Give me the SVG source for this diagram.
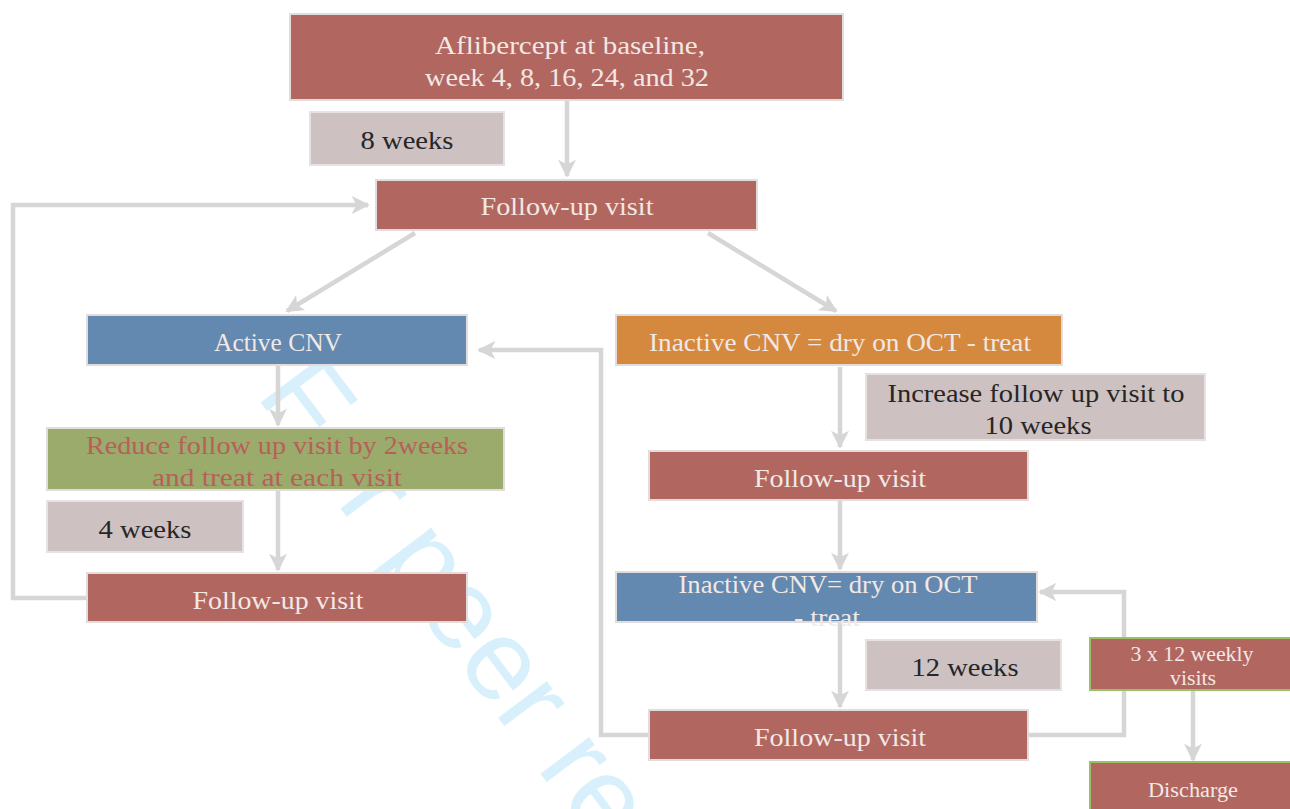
<svg xmlns="http://www.w3.org/2000/svg" width="1290" height="809" viewBox="0 0 1290 809">
<defs>
<marker id="ah" viewBox="0 0 10 10" refX="9" refY="5" markerWidth="4" markerHeight="4" orient="auto" markerUnits="strokeWidth">
<path d="M0,0 L10,5 L0,10 L2.5,5 Z" fill="#d6d6d6"/>
</marker>
</defs>
<style>
.red{fill:#b1665f;stroke:#e2dddc;stroke-width:2}
.blue{fill:#6489b0;stroke:#e2dddc;stroke-width:2}
.orange{fill:#d4893f;stroke:#e2dddc;stroke-width:2}
.green{fill:#9bab6b;stroke:#e2dddc;stroke-width:2}
.grey{fill:#cdc1c1;stroke:#e6e2e2;stroke-width:2}
.redg{fill:#b1665f;stroke:#9cc06a;stroke-width:2}
.t{font-family:"Liberation Serif","DejaVu Serif",serif;font-size:26px;text-anchor:middle}
.s{font-size:20px}
.w{fill:#f2e8e4}
.d{fill:#262626}
.r{fill:#b5615a}
.c{fill:none;stroke:#d6d6d6;stroke-width:4.5;marker-end:url(#ah)}
.n{fill:none;stroke:#d6d6d6;stroke-width:4.5}
</style>
<rect width="1290" height="809" fill="#ffffff"/>
<text x="0" y="0" transform="translate(255,395) rotate(53)" font-family="Liberation Sans,Arial,sans-serif" font-size="115" fill="#d7f0fb">For peer review</text>

<g id="connectors">
<path class="c" d="M567,101 L567,176"/>
<path class="n" d="M88,598 L13,598 L13,205 L367,205"/>
<path class="c" d="M366,205 L368,205"/>
<path class="c" d="M415,233 L287,311"/>
<path class="c" d="M708,233 L836,311"/>
<path class="c" d="M278,366 L278,425"/>
<path class="c" d="M278,491 L278,570"/>
<path class="n" d="M650,735 L601,735 L601,350 L482,350"/>
<path class="c" d="M484,350 L479,350"/>
<path class="c" d="M840,367 L840,447"/>
<path class="c" d="M840,501 L840,569"/>
<path class="c" d="M840,623 L840,707"/>
<path class="n" d="M1028,735 L1124,735 L1124,592 L1045,592"/>
<path class="c" d="M1046,592 L1040,592"/>
<path class="c" d="M1193,691 L1193,760"/>
</g>

<g id="n-aflibercept">
<rect class="red" x="290" y="14" width="553" height="86"/>
<text class="t w" x="570" y="54" textLength="270" lengthAdjust="spacingAndGlyphs">Aflibercept at baseline,</text>
<text class="t w" x="567" y="86" textLength="284" lengthAdjust="spacingAndGlyphs">week 4, 8, 16, 24, and 32</text>
</g>
<g id="n-8weeks">
<rect class="grey" x="310" y="112" width="194" height="53"/>
<text class="t d" x="407" y="149" textLength="93" lengthAdjust="spacingAndGlyphs">8 weeks</text>
</g>
<g id="n-followup1">
<rect class="red" x="376" y="180" width="381" height="50"/>
<text class="t w" x="567" y="215" textLength="173" lengthAdjust="spacingAndGlyphs">Follow-up visit</text>
</g>
<g id="n-active">
<rect class="blue" x="87" y="315" width="380" height="50"/>
<text class="t w" x="278" y="351" textLength="128" lengthAdjust="spacingAndGlyphs">Active CNV</text>
</g>
<g id="n-reduce">
<rect class="green" x="47" y="428" width="457" height="62"/>
<text class="t r" x="277" y="454" textLength="382" lengthAdjust="spacingAndGlyphs">Reduce follow up visit by 2weeks</text>
<text class="t r" x="277" y="486" textLength="250" lengthAdjust="spacingAndGlyphs">and treat at each visit</text>
</g>
<g id="n-4weeks">
<rect class="grey" x="47" y="501" width="196" height="51"/>
<text class="t d" x="145" y="538" textLength="93" lengthAdjust="spacingAndGlyphs">4 weeks</text>
</g>
<g id="n-followup2">
<rect class="red" x="87" y="573" width="380" height="49"/>
<text class="t w" x="278" y="609" textLength="171" lengthAdjust="spacingAndGlyphs">Follow-up visit</text>
</g>
<g id="n-inactive1">
<rect class="orange" x="616" y="315" width="446" height="50"/>
<text class="t w" x="840" y="351" textLength="382" lengthAdjust="spacingAndGlyphs">Inactive CNV = dry on OCT - treat</text>
</g>
<g id="n-increase">
<rect class="grey" x="866" y="374" width="339" height="66"/>
<text class="t d" x="1036" y="402" textLength="297" lengthAdjust="spacingAndGlyphs">Increase follow up visit to</text>
<text class="t d" x="1038" y="434" textLength="107" lengthAdjust="spacingAndGlyphs">10 weeks</text>
</g>
<g id="n-followup3">
<rect class="red" x="649" y="451" width="379" height="49"/>
<text class="t w" x="840" y="487" textLength="172" lengthAdjust="spacingAndGlyphs">Follow-up visit</text>
</g>
<g id="n-inactive2">
<rect class="blue" x="616" y="572" width="421" height="50"/>
<text class="t w" x="828" y="593" textLength="299" lengthAdjust="spacingAndGlyphs">Inactive CNV= dry on OCT</text>
<text class="t w" x="827" y="626" textLength="66" lengthAdjust="spacingAndGlyphs">- treat</text>
</g>
<g id="n-12weeks">
<rect class="grey" x="866" y="640" width="195" height="50"/>
<text class="t d" x="965" y="676" textLength="107" lengthAdjust="spacingAndGlyphs">12 weeks</text>
</g>
<g id="n-followup4">
<rect class="red" x="649" y="710" width="379" height="50"/>
<text class="t w" x="840" y="746" textLength="172" lengthAdjust="spacingAndGlyphs">Follow-up visit</text>
</g>
<g id="n-3x12">
<rect class="redg" x="1090" y="638" width="210" height="52"/>
<text class="t s w" x="1192" y="661" textLength="123" lengthAdjust="spacingAndGlyphs">3 x 12 weekly</text>
<text class="t s w" x="1193" y="685" textLength="46" lengthAdjust="spacingAndGlyphs">visits</text>
</g>
<g id="n-discharge">
<rect class="redg" x="1090" y="762" width="210" height="60"/>
<text class="t s w" x="1193" y="797" textLength="90" lengthAdjust="spacingAndGlyphs">Discharge</text>
</g>
</svg>
